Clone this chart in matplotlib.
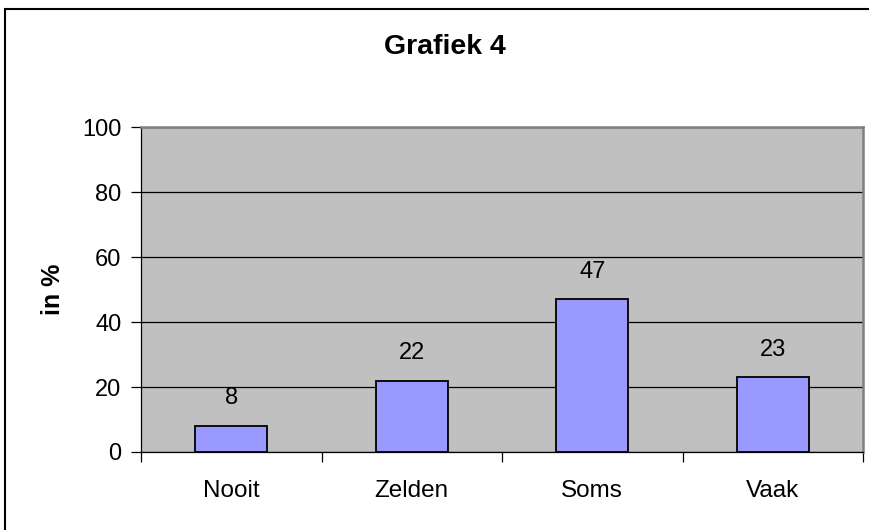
import matplotlib.pyplot as plt
from matplotlib.patches import Rectangle

plt.rcParams['font.family'] = ['Liberation Sans', 'DejaVu Sans']

categories = ['Nooit', 'Zelden', 'Soms', 'Vaak']
values = [8, 22, 47, 23]
labels = ['8', '22', '47', '23']
y_ticks = [0, 20, 40, 60, 80, 100]

fig = plt.figure(figsize=(8.69, 5.30), dpi=100)
W, H = 869, 530

# outer chart frame (right and bottom run off the picture)
fig.patches.append(Rectangle((5 / W, -0.1), 1.2, 1.1 - 9 / H, transform=fig.transFigure,
                             fill=False, edgecolor='black', linewidth=1.5))

ax = fig.add_axes([141 / W, 1 - 452 / H, (863 - 141) / W, (452 - 127) / H])
ax.set_facecolor('#C0C0C0')

x = list(range(len(categories)))
ax.bar(x, values, width=0.4, color='#9999FF', edgecolor='black', linewidth=1.3, zorder=3)
for xi, v, lab in zip(x, values, labels):
    ax.annotate(lab, (xi, v), xytext=(0, 12), textcoords='offset points',
                ha='center', va='bottom', fontsize=17)

ax.set_xlim(-0.5, len(categories) - 0.5)
ax.set_ylim(0, 100)
ax.set_yticks(y_ticks)
ax.yaxis.grid(True, color='black', linewidth=0.9, zorder=1)
ax.set_axisbelow(True)
ax.tick_params(axis='y', length=7, width=0.9, pad=7, labelsize=17)

ax.set_xticks(x)
ax.set_xticklabels(categories, fontsize=17.5)
ax.tick_params(axis='x', which='major', length=0, pad=20)
ax.set_xticks([i - 0.5 for i in range(len(categories) + 1)], minor=True)
ax.tick_params(axis='x', which='minor', length=7, width=0.9)

for s in ['left', 'bottom']:
    ax.spines[s].set_color('black')
    ax.spines[s].set_linewidth(0.9)
for s in ['top', 'right']:
    ax.spines[s].set_color('#808080')
    ax.spines[s].set_linewidth(1.8)

ax.set_ylabel('in %', fontsize=18, fontweight='bold')
ax.yaxis.set_label_coords((53 - 141) / (863 - 141), 0.5)
ax.yaxis.label.set_va('center')

fig.text(445 / W, 1 - 47 / H, 'Grafiek 4', ha='center', va='center',
         fontsize=20.5, fontweight='bold')

fig.savefig('out.png', dpi=100)
